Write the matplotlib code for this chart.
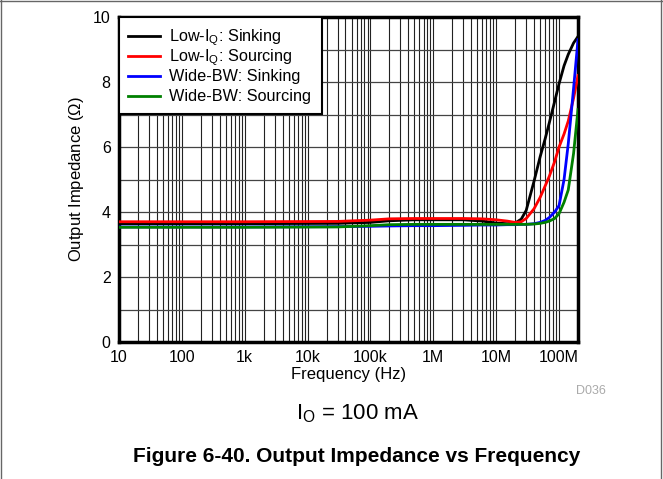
import matplotlib
matplotlib.use("Agg")
import matplotlib.pyplot as plt
from matplotlib.lines import Line2D
from matplotlib.patches import Rectangle
from matplotlib.ticker import FixedLocator, NullFormatter

plt.rcParams['font.family'] = ['Liberation Sans', 'DejaVu Sans']
plt.rcParams['mathtext.fontset'] = 'custom'
plt.rcParams['mathtext.rm'] = 'Liberation Sans'
plt.rcParams['mathtext.it'] = 'Liberation Sans'

# frequency points (Hz)
freq = [10, 1e3, 3e4, 1e5, 2e5, 5e5, 1e6, 3e6, 6e6, 1e7, 1.5e7, 2e7, 2.5e7,
        3e7, 4e7, 5e7, 6e7, 7e7, 8.5e7, 1e8, 1.2e8, 1.4e8, 1.7e8, 2e8]

# output impedance (ohm)
lowiq_sink = [3.64, 3.64, 3.65, 3.68, 3.73, 3.76, 3.76, 3.76, 3.72, 3.66, 3.64, 3.66, 3.78,
              4.05, 4.95, 5.70, 6.25, 6.75, 7.40, 7.95, 8.50, 8.85, 9.20, 9.40]
lowiq_source = [3.70, 3.70, 3.71, 3.75, 3.79, 3.80, 3.80, 3.80, 3.79, 3.76, 3.72, 3.68, 3.70,
                3.80, 4.10, 4.45, 4.80, 5.10, 5.55, 6.00, 6.40, 6.80, 7.50, 8.20]
widebw_sink = [3.54, 3.54, 3.55, 3.56, 3.57, 3.58, 3.58, 3.59, 3.60, 3.60, 3.61, 3.61, 3.62,
               3.62, 3.64, 3.68, 3.74, 3.83, 4.00, 4.20, 5.00, 6.10, 7.80, 9.30]
widebw_source = [3.53, 3.53, 3.54, 3.58, 3.61, 3.62, 3.62, 3.62, 3.62, 3.62, 3.62, 3.62, 3.62,
                 3.62, 3.63, 3.65, 3.68, 3.72, 3.80, 3.95, 4.30, 4.68, 5.80, 7.15]

series = [
    ('Low-I$_\\mathrm{Q}$: Sinking', lowiq_sink, 'black'),
    ('Low-I$_\\mathrm{Q}$: Sourcing', lowiq_source, 'red'),
    ('Wide-BW: Sinking', widebw_sink, 'blue'),
    ('Wide-BW: Sourcing', widebw_source, 'green'),
]

xticks = [10, 100, 1e3, 1e4, 1e5, 1e6, 1e7, 1e8]
xticklabels = ['10', '100', '1k', '10k', '100k', '1M', '10M', '100M']

W, H = 663, 479
AX_L, AX_R, AX_T, AX_B = 119, 578, 17, 342

fig = plt.figure(figsize=(W / 100, H / 100), dpi=100)
ax = fig.add_axes([AX_L / W, 1 - AX_B / H, (AX_R - AX_L) / W, (AX_B - AX_T) / H])

for label, vals, color in series:
    ax.plot(freq, vals, color=color, lw=2, zorder=3)

ax.set_xscale('log')
ax.set_xlim(10, 2e8)
ax.set_ylim(0, 10)
ax.set_xticks(xticks)
ax.set_xticklabels(xticklabels)
ax.xaxis.set_minor_locator(FixedLocator([m * 10 ** e for e in range(1, 9) for m in range(2, 10)
                                         if m * 10 ** e < 2e8]))
ax.xaxis.set_minor_formatter(NullFormatter())
ax.set_yticks(range(0, 11, 2))
ax.set_yticks(range(0, 11), minor=True)
ax.tick_params(which='both', length=0, labelsize=11.5, colors='black', pad=6)

ax.grid(True, which='both', axis='x', color='#222222', lw=0.8)
ax.grid(True, which='both', axis='y', color='#444444', lw=0.9)
ax.set_axisbelow(True)

for sp in ax.spines.values():
    sp.set_linewidth(2.5)
    sp.set_color('black')

ax.set_xlabel('Frequency (Hz)', fontsize=12, labelpad=1)
ax.set_ylabel('Output Impedance ($\\Omega$)', fontsize=12, labelpad=5)


# legend drawn by hand so the rows are evenly spaced (pixel positions)
def ax_xy(px, py):
    return (px - AX_L) / (AX_R - AX_L), (AX_B - py) / (AX_B - AX_T)


x0, y0 = ax_xy(119, 114)
x1, y1 = ax_xy(322, 17)
ax.add_patch(Rectangle((x0, y0), x1 - x0, y1 - y0, transform=ax.transAxes,
                       facecolor='white', edgecolor='black', lw=1.5, zorder=5))
for i, (label, vals, color) in enumerate(series):
    yc = 36 + i * 20
    hx0, hy = ax_xy(128, yc)
    hx1, _ = ax_xy(160, yc)
    ax.add_line(Line2D([hx0, hx1], [hy, hy], color=color, lw=2, transform=ax.transAxes, zorder=6))
    tx, ty = ax_xy(169, yc + 5.5)
    ax.text(tx, ty, label, transform=ax.transAxes, fontsize=11.7, va='baseline', ha='left', zorder=6)

fig.text(591 / W, 1 - 391 / H, 'D036', color='#aaaaaa', fontsize=9, ha='center', va='center')
fig.text(358 / W, 1 - 414 / H, 'I$_\\mathrm{O}$ = 100 mA', fontsize=16, ha='center', va='center')
fig.text(357 / W, 1 - 457 / H, 'Figure 6-40. Output Impedance vs Frequency',
         fontsize=15, fontweight='bold', ha='center', va='center')

# page frame
for xs, ys in [([0.002, 0.002], [0, 1]), ([0.997, 0.997], [0, 1]), ([0, 1], [0.998, 0.998])]:
    fig.add_artist(Line2D(xs, ys, color='#666666', lw=1, transform=fig.transFigure))

fig.savefig('out.png', dpi=100)
